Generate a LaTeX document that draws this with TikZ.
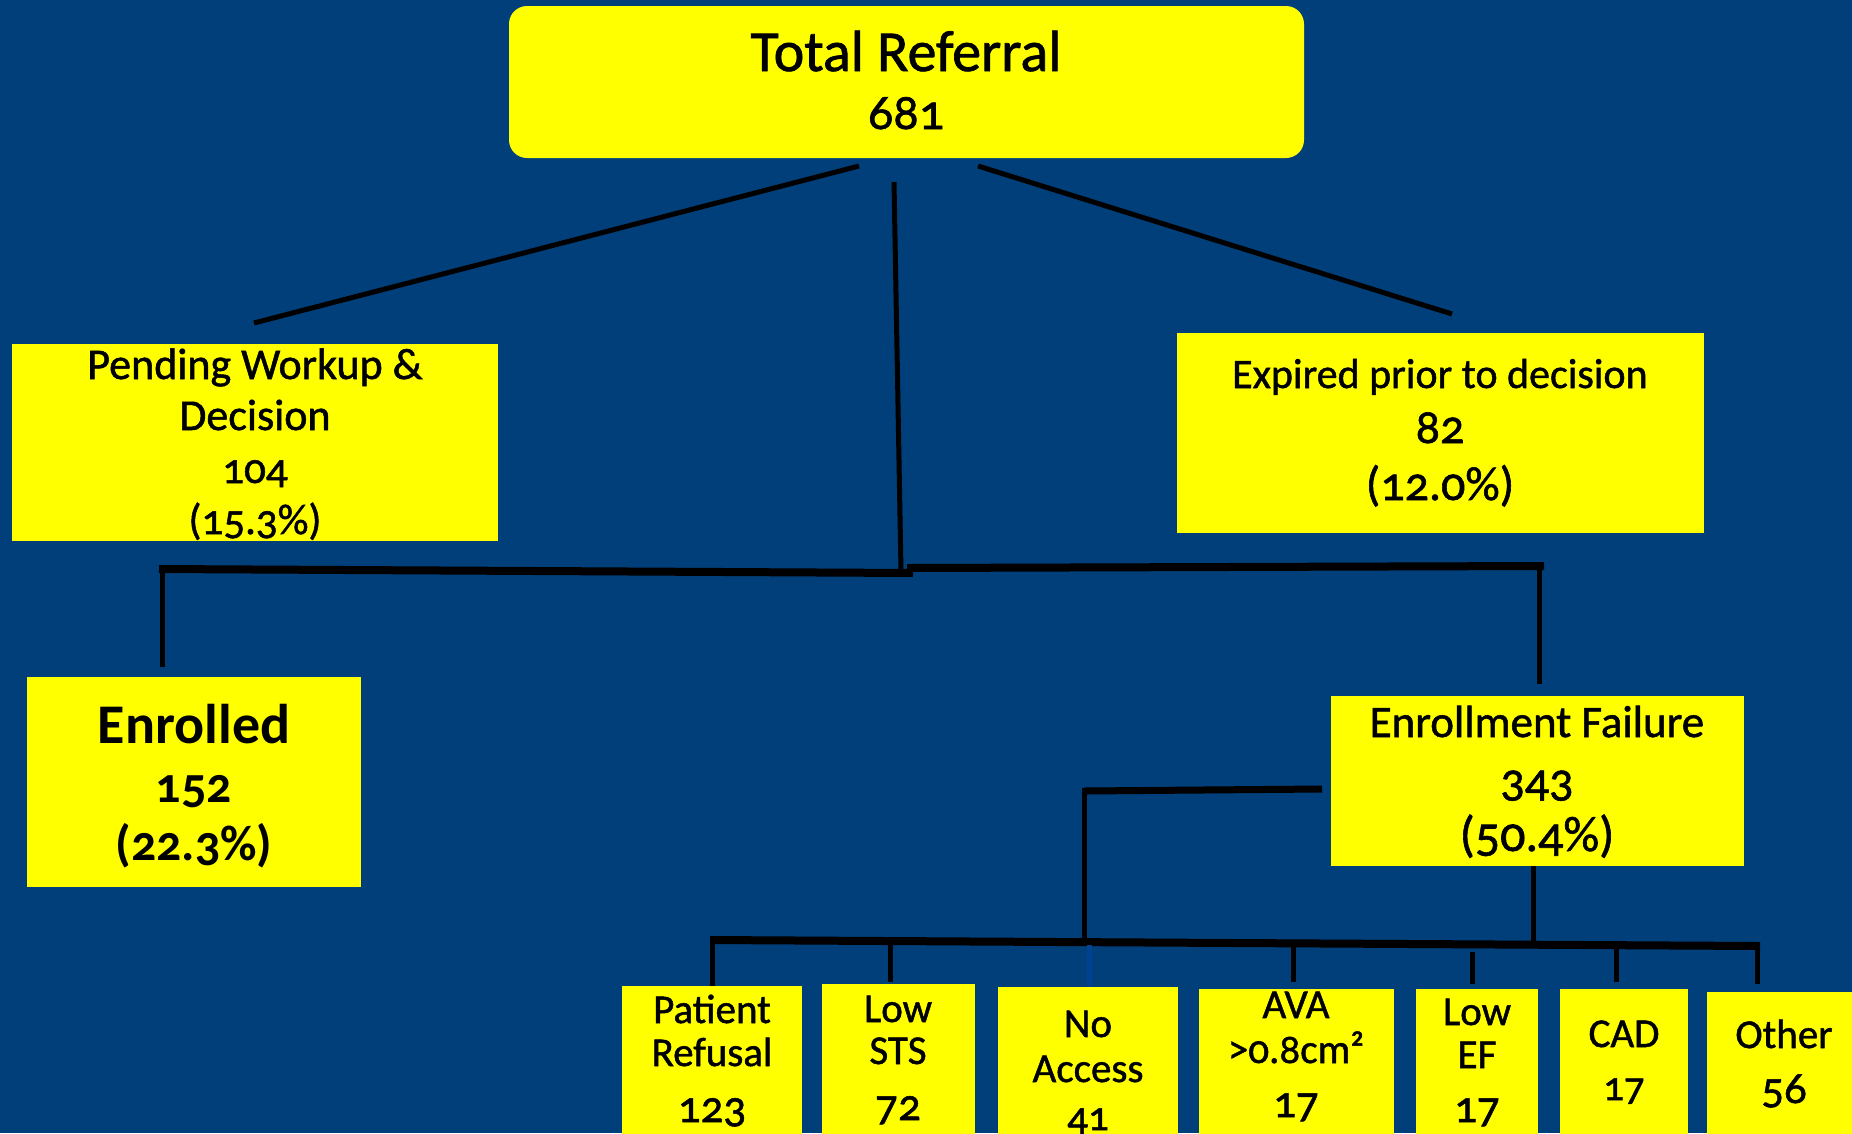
\documentclass[tikz,border=0pt]{standalone}
\usepackage{fontspec}
\setmainfont{Carlito}[Numbers=OldStyle, FakeBold=1.2]
\newfontfamily\boldfam{Carlito}[Numbers=OldStyle, UprightFont=*-Bold]
\definecolor{bg}{RGB}{1,63,122}
\definecolor{yel}{RGB}{255,255,0}
\definecolor{tickblue}{RGB}{0,66,145}
\tikzset{
  box/.style={fill=yel, draw=none, rectangle, inner sep=0pt},
  lbl/.style={anchor=base, inner sep=0pt, text=black},
  big/.style={font=\fontsize{58}{60}\selectfont},
  mid/.style={font=\fontsize{43}{45}\selectfont},
  num/.style={font=\fontsize{48}{50}\selectfont},
  sml/.style={font=\fontsize{41}{43}\selectfont},
  snum/.style={font=\fontsize{45}{47}\selectfont},
  boldbig/.style={font=\fontsize{56}{58}\selectfont\boldfam},
  boldmid/.style={font=\fontsize{50}{52}\selectfont\boldfam},
  thin/.style={line width=5pt, draw=black, line cap=butt},
  bar/.style={line width=8pt, draw=black, line cap=butt},
}
\begin{document}
\begin{tikzpicture}[x=1pt,y=-1pt]
\fill[bg] (0,0) rectangle (1852,1133);
\useasboundingbox (0,0) rectangle (1852,1133);
\clip (0,0) rectangle (1852,1133);

% boxes
\node[box, minimum width=795pt, minimum height=152pt, rounded corners=18pt] (top) at (906.5,82) {};
\node[box, minimum width=486pt, minimum height=197pt] (pend) at (255,442.5) {};
\node[box, minimum width=527pt, minimum height=200pt] (exp) at (1440.5,433) {};
\node[box, minimum width=334pt, minimum height=210pt] (enr) at (194,782) {};
\node[box, minimum width=413pt, minimum height=170pt] (ef) at (1537.5,781) {};
\node[box, minimum width=180pt, minimum height=160pt, anchor=north] (pr) at (712,986) {};
\node[box, minimum width=153pt, minimum height=160pt, anchor=north] (ls) at (898.5,984) {};
\node[box, minimum width=180pt, minimum height=160pt, anchor=north] (na) at (1088,987) {};
\node[box, minimum width=195pt, minimum height=160pt, anchor=north] (ava) at (1296.5,989) {};
\node[box, minimum width=122pt, minimum height=160pt, anchor=north] (lef) at (1477,989) {};
\node[box, minimum width=128pt, minimum height=160pt, anchor=north] (cad) at (1624,989) {};
\node[box, minimum width=153pt, minimum height=160pt, anchor=north] (oth) at (1783.5,992) {};

% texts
\node[lbl, big] (topA) at (906,71) {Total Referral};
\node[lbl, font=\fontsize{50}{52}\selectfont] (topB) at (906,129) {681};

\node[lbl, font=\fontsize{44}{46}\selectfont] (pendA) at (255,379) {Pending Workup \&};
\node[lbl, font=\fontsize{44}{46}\selectfont] (pendB) at (255,430) {Decision};
\node[lbl, mid] (pendC) at (255,483) {104};
\node[lbl, mid] (pendD) at (255,534) {(15.3\%)};

\node[lbl, font=\fontsize{42}{44}\selectfont] (expA) at (1440,388) {Expired prior to decision};
\node[lbl, num] (expB) at (1440,443) {82};
\node[lbl, num] (expC) at (1440,500) {(12.0\%)};

\node[lbl, boldbig] (enrA) at (194,743) {Enrolled};
\node[lbl, boldmid] (enrB) at (194,802) {152};
\node[lbl, boldmid] (enrC) at (194,860) {(22.3\%)};

\node[lbl, font=\fontsize{45}{47}\selectfont] (efA) at (1537,737) {Enrollment Failure};
\node[lbl, num] (efB) at (1537,796) {343};
\node[lbl, font=\fontsize{50}{52}\selectfont] (efC) at (1537,851) {(50.4\%)};

\node[lbl, sml] (prA) at (712,1023) {Patient};
\node[lbl, sml] (prB) at (712,1066) {Refusal};
\node[lbl, snum] (prC) at (712,1122) {123};

\node[lbl, sml] (lsA) at (898,1022) {Low};
\node[lbl, sml] (lsB) at (898,1064) {STS};
\node[lbl, snum] (lsC) at (898,1120) {72};

\node[lbl, sml] (naA) at (1088,1037) {No};
\node[lbl, sml] (naB) at (1088,1082) {Access};
\node[lbl, sml] (naC) at (1088,1130) {41};

\node[lbl, sml] (avaA) at (1296,1018) {AVA};
\node[lbl, sml] (avaB) at (1296,1063) {>0.8cm²};
\node[lbl, snum] (avaC) at (1296,1117) {17};

\node[lbl, sml] (lefA) at (1477,1025) {Low};
\node[lbl, sml] (lefB) at (1477,1068) {EF};
\node[lbl, snum] (lefC) at (1477,1122) {17};

\node[lbl, sml] (cadA) at (1624,1047) {CAD};
\node[lbl, sml] (cadB) at (1624,1100) {17};

\node[lbl, sml] (othA) at (1784,1048) {Other};
\node[lbl, snum] (othB) at (1784,1103) {56};

% connector coordinates
\coordinate (tL) at (859,166);  \coordinate (pL) at (254,323);
\coordinate (tC) at (894,182);  \coordinate (mC) at (901,572);
\coordinate (tR) at (978,166);  \coordinate (eR) at (1452,314);
\coordinate (b1a) at (159,569); \coordinate (b1b) at (913,573);
\coordinate (b2a) at (907,568); \coordinate (b2b) at (1544,566);
\coordinate (enrT) at (162,667);
\coordinate (efT1) at (1539,570); \coordinate (efT) at (1539,684);
\coordinate (efL) at (1322,789); \coordinate (efLc) at (1084,791);
\coordinate (bb1) at (1084,941);
\coordinate (efB0) at (1533,866); \coordinate (efB1) at (1533,945);
\coordinate (bbL) at (710,940); \coordinate (bbR) at (1760,946);

\draw[thin] (tL) -- (pL);
\draw[thin] (tC) -- (mC);
\draw[thin] (tR) -- (eR);
\draw[bar] (b1a) -- (b1b);
\draw[bar] (b2a) -- (b2b);
\draw[thin] (162,569) -- (enrT);
\draw[thin] (efT1) -- (efT);
\draw[bar, line width=7pt] (efL) -- (efLc);
\draw[thin] (1084,788) -- (bb1);
\draw[thin] (efB0) -- (efB1);
\draw[bar] (bbL) -- (bbR);

% drops to bottom boxes
\draw[thin] (712,941) -- (pr.north -| 712,0);
\draw[thin] (890,942) -- (890,982);
\draw[thin, draw=tickblue] (1089,945) -- (na.north -| 1089,0);
\draw[thin] (1293,946) -- (1293,982);
\draw[thin] (1472,952) -- (1472,984);
\draw[thin] (1616,947) -- (1616,982);
\draw[thin] (1757,947) -- (1757,984);
\end{tikzpicture}
\end{document}
